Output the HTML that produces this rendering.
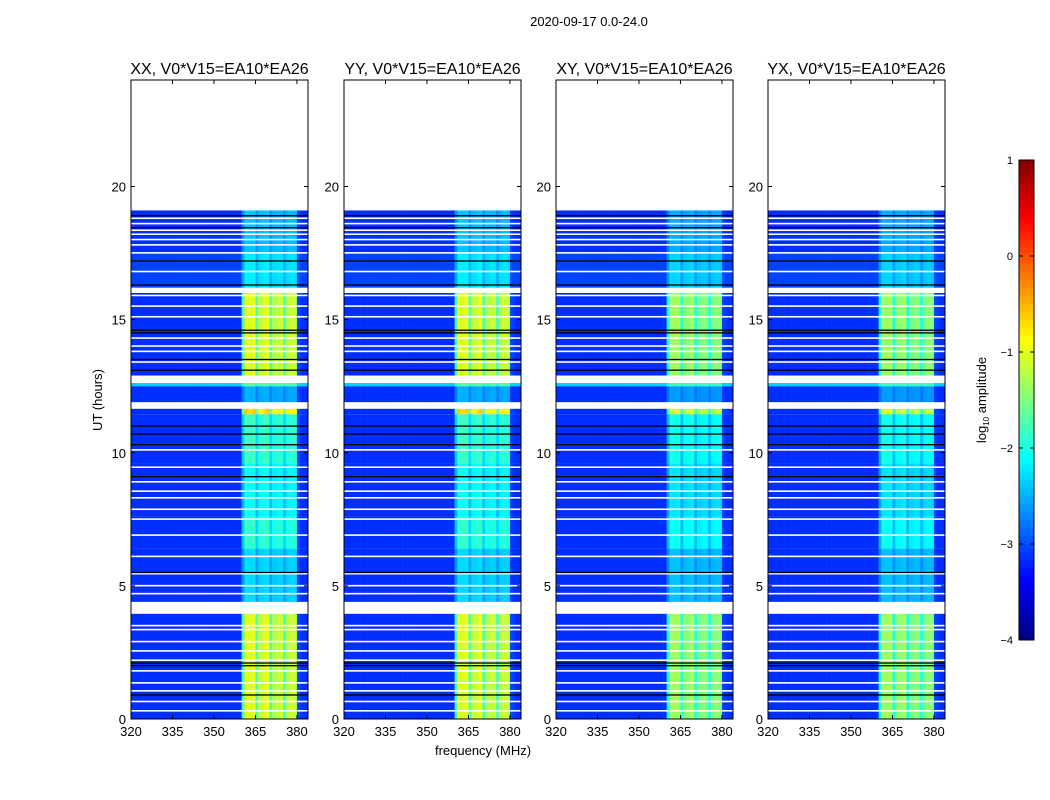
<!DOCTYPE html>
<html><head><meta charset="utf-8"><style>
body{margin:0;background:#fff;}
svg{display:block;font-family:"Liberation Sans",sans-serif;}
</style></head><body>
<svg id="fig" width="1050" height="800" viewBox="0 0 1050 800">
<text x="589" y="26" font-size="13" text-anchor="middle">2020-09-17 0.0-24.0</text>
<text x="483" y="755" font-size="13" text-anchor="middle">frequency (MHz)</text>
<text transform="translate(102,400) rotate(-90)" font-size="13" text-anchor="middle">UT (hours)</text>
<text transform="translate(986,400) rotate(-90)" font-size="13" text-anchor="middle">log<tspan font-size="8" dy="3">10</tspan><tspan dy="-3"> amplitude</tspan></text>
</svg>
<script>
// ---- data ----
const panelTitles = ["XX, V0*V15=EA10*EA26","YY, V0*V15=EA10*EA26","XY, V0*V15=EA10*EA26","YX, V0*V15=EA10*EA26"];
const panelBandScale = [1.0, 1.0, 0.85, 0.85];
const xTicks = [320,335,350,365,380];
const yTicks = [0,5,10,15,20];
const cbTicks = [1,0,-1,-2,-3,-4];
// channel profile: log-amplitude excess above background per 1 MHz channel, 320..383
const chanProfile = [
0,0,0,0,0,0,0,0,0,0, 0,0,0,0,0,0,0,0,0,0,
0,0,0,0,0,0,0,0,0,0, 0,0,0,0,0,0,0,0,0,0,
1.3,2.2,2.1,2.1,2.2,1.4,2.0,2.0,2.1,2.2, 1.4,1.9,1.9,2.0,2.0,1.4,1.9,2.0,2.0,2.0,
0.15,0.05,0,0];
const background = -3.15;
const segStart = [0.0, 4.4, 6.4, 7.6, 9.6, 11.45, 11.9, 12.5, 12.9, 16.2, 17.5];
const segEnd   = [3.95,6.4, 7.6, 9.6, 11.45,11.65, 12.5, 12.62,16.0, 17.5, 19.1];
const segLevel = [1.0, 0.4,0.6,0.5,0.62, 1.15, 0.3, 0.3, 1.0, 0.4, 0.35];
const segBg    = [0, 0, 0, 0, 0, 0, 0, 0.8, 0, 0.1, 0];
const whiteLines = [0.3,0.65,1.05,1.35,1.8,2.2,2.55,2.9,3.35,3.5,4.7,5.0,5.45,6.1,6.9,7.5,7.87,8.3,8.55,8.9,9.45,10.1,11.75,13.4,13.8,14.0,14.3,15.1,15.5,15.9,16.8,17.5,17.8,18.0,18.2,18.35,18.6,18.8];
const blackLines = [0.9,2.0,2.1,5.5,9.1,10.3,10.7,11.0,13.1,13.5,14.5,14.6,16.3,17.2,18.45,18.9];

// ---- layout ----
const NS="http://www.w3.org/2000/svg";
const svg=document.getElementById('fig');
const panelX=[131,344,556,768], PW=177, PT=80, PB=719;
const fMin=320,fMax=384,tMin=0,tMax=24;
function jet(v){const t=Math.max(0,Math.min(1,(v+4)/5));
 const r=Math.max(0,Math.min(1,Math.min(4*t-1.5,-4*t+4.5)));
 const g=Math.max(0,Math.min(1,Math.min(4*t-0.5,-4*t+3.5)));
 const b=Math.max(0,Math.min(1,Math.min(4*t+0.5,-4*t+2.5)));
 return `rgb(${Math.round(r*255)},${Math.round(g*255)},${Math.round(b*255)})`;}
function mk(tag,attrs,parent){const e=document.createElementNS(NS,tag);for(const k in attrs)e.setAttribute(k,attrs[k]);(parent||svg).appendChild(e);return e;}

panelX.forEach((x0,p)=>{
 const xs=f=>x0+(f-fMin)/(fMax-fMin)*PW;
 const ys=h=>PB-(h-tMin)/(tMax-tMin)*(PB-PT);
 const g=mk('g',{});
 
 
 segStart.forEach((s,i)=>{
  const y1=ys(segEnd[i]), y2=ys(s);
  chanProfile.forEach((pv,c)=>{
   const v=background+segBg[i]+segLevel[i]*panelBandScale[p]*pv;
   const r=mk('rect',{x:xs(fMin+c),y:y1,width:xs(fMin+c+1)-xs(fMin+c)+0.3,height:y2-y1,fill:jet(v)},g);
   
   
  });
 });
 whiteLines.forEach(h=>{const r=mk('rect',{x:x0,y:ys(h)-1,width:PW,height:1.6,fill:'#fff'},g);
  });
 blackLines.forEach(h=>{const r=mk('rect',{x:x0,y:ys(h)-0.7,width:PW,height:1.3,fill:'#000'},g);
  });
 const fr=mk('rect',{x:x0,y:PT,width:PW,height:PB-PT,fill:'none',stroke:'#000','stroke-width':1});
 
 const t=mk('text',{x:x0+PW/2,y:74,'font-size':16,'text-anchor':'middle'});t.textContent=panelTitles[p];
 
 xTicks.forEach(f=>{const x=xs(f);
  mk('line',{x1:x,x2:x,y1:PB,y2:PB-4,stroke:'#000'});mk('line',{x1:x,x2:x,y1:PT,y2:PT+4,stroke:'#000'});
  const l=mk('text',{x:x,y:PB+17,'font-size':13,'text-anchor':'middle'});l.textContent=f;
  });
 yTicks.forEach(h=>{const y=ys(h);
  mk('line',{x1:x0,x2:x0+4,y1:y,y2:y,stroke:'#000'});mk('line',{x1:x0+PW,x2:x0+PW-4,y1:y,y2:y,stroke:'#000'});
  const l=mk('text',{x:x0-5,y:y+5,'font-size':13,'text-anchor':'end'});l.textContent=h;
  });
});

// colorbar
const cbX=1019,cbW=15,cbT=160,cbB=640;
const cg=mk('g',{});
for(let i=0;i<120;i++){const v=1-5*i/120;const y=cbT+(cbB-cbT)*i/120;
 mk('rect',{x:cbX,y:y,width:cbW,height:(cbB-cbT)/120+0.5,fill:jet(v-5/240)},cg);}
mk('rect',{x:cbX,y:cbT,width:cbW,height:cbB-cbT,fill:'none',stroke:'#000'},cg);
cbTicks.forEach(v=>{const y=cbT+(1-v)/5*(cbB-cbT);
 mk('line',{x1:cbX,x2:cbX+4,y1:y,y2:y,stroke:'#000'},cg);mk('line',{x1:cbX+cbW,x2:cbX+cbW-4,y1:y,y2:y,stroke:'#000'},cg);
 const l=mk('text',{x:1013,y:y+4,'font-size':11,'text-anchor':'end'},cg);l.textContent=(v<0?'\u2212'+(-v):v);
 });
</script>
</body></html>
